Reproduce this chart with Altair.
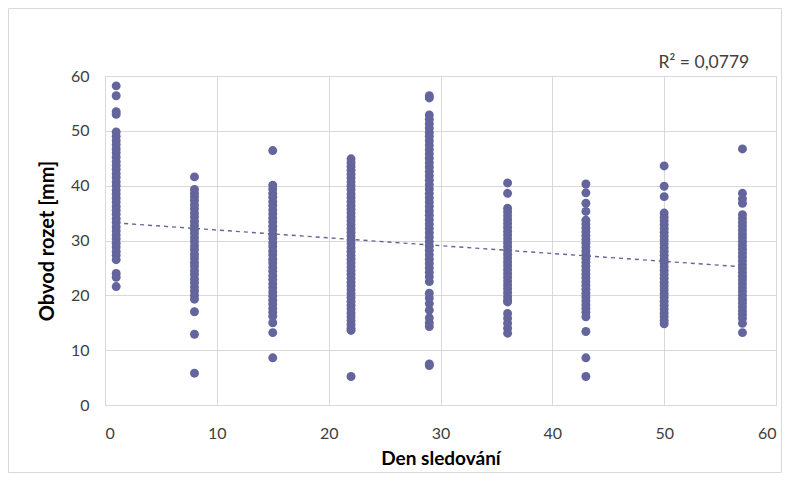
import altair as alt
import pandas as pd

# ---- data ----
days = [1, 8, 15, 22, 29, 36, 43, 50, 57]

obvod_d1 = [58.2, 56.4, 53.5, 53.0, 49.8, 49.0, 48.2, 47.5, 46.7, 46.0, 45.2, 44.4, 43.7,
            43.0, 42.2, 41.5, 40.7, 40.0, 39.2, 38.5, 37.7, 37.0, 36.2, 35.5, 34.8, 34.0,
            33.3, 32.5, 31.8, 31.0, 30.3, 29.5, 28.8, 28.0, 27.3, 26.5, 24.0, 23.3, 21.6]
obvod_d8 = [41.6, 39.3, 38.6, 38.0, 37.3, 36.5, 35.8, 35.0, 34.3, 33.5, 32.8, 32.0, 31.3,
            30.5, 29.8, 29.0, 28.3, 27.5, 26.8, 26.0, 25.3, 24.5, 23.8, 23.0, 22.3, 21.5,
            20.8, 20.0, 19.3, 17.0, 12.9, 5.8]
obvod_d15 = [46.4, 40.1, 39.4, 38.6, 37.9, 37.1, 36.4, 35.6, 34.9, 34.1, 33.4, 32.6, 31.9,
             31.1, 30.4, 29.6, 28.9, 28.1, 27.4, 26.6, 25.9, 25.1, 24.4, 23.6, 22.9, 22.1,
             21.4, 20.6, 19.9, 19.1, 18.4, 17.6, 16.9, 16.2, 15.0, 13.2, 8.6]
obvod_d22 = [44.9, 44.2, 43.5, 42.8, 42.1, 41.4, 40.7, 40.0, 39.3, 38.5, 37.8, 37.1, 36.4,
             35.7, 35.0, 34.3, 33.6, 32.9, 32.2, 31.5, 30.8, 30.1, 29.4, 28.7, 28.0, 27.3,
             26.6, 25.9, 25.2, 24.5, 23.8, 23.1, 22.4, 21.7, 21.0, 20.3, 19.6, 18.9, 18.2,
             17.5, 16.8, 16.1, 15.4, 14.7, 14.0, 13.6, 5.2]
obvod_d29 = [56.4, 56.0, 52.9, 52.1, 51.3, 50.5, 49.7, 49.0, 48.2, 47.4, 46.6, 45.8, 45.0,
             44.2, 43.4, 42.6, 41.8, 41.0, 40.2, 39.4, 38.6, 37.8, 37.0, 36.2, 35.4, 34.6,
             33.8, 33.0, 32.2, 31.4, 30.6, 29.8, 29.0, 28.2, 27.4, 26.6, 25.8, 25.0, 24.2,
             23.4, 22.5, 20.4, 19.5, 18.5, 17.3, 15.9, 15.0, 14.3, 7.5, 7.2]
obvod_d36 = [40.5, 38.6, 35.9, 35.2, 34.5, 33.8, 33.1, 32.4, 31.7, 31.0, 30.3, 29.6, 28.9,
             28.2, 27.5, 26.8, 26.1, 25.4, 24.7, 24.0, 23.3, 22.6, 21.9, 21.2, 20.5, 19.8,
             19.1, 18.8, 16.7, 15.8, 14.9, 14.0, 13.1]
obvod_d43 = [40.3, 38.7, 36.8, 35.3, 33.7, 33.0, 32.3, 31.6, 30.9, 30.2, 29.5, 28.8, 28.1,
             27.4, 26.7, 26.0, 25.3, 24.6, 23.9, 23.2, 22.5, 21.8, 21.1, 20.4, 19.7, 19.0,
             18.3, 17.6, 16.9, 16.1, 13.4, 8.6, 5.2]
obvod_d50 = [43.6, 39.9, 38.0, 35.0, 34.3, 33.6, 32.9, 32.2, 31.5, 30.8, 30.1, 29.4, 28.7,
             28.0, 27.3, 26.6, 25.9, 25.2, 24.5, 23.8, 23.1, 22.4, 21.7, 21.0, 20.3, 19.6,
             18.9, 18.2, 17.5, 16.8, 16.1, 15.4, 14.8]
obvod_d57 = [46.7, 38.6, 37.6, 36.8, 34.7, 34.0, 33.3, 32.6, 31.9, 31.2, 30.5, 29.8, 29.1,
             28.4, 27.7, 27.0, 26.3, 25.6, 24.9, 24.2, 23.5, 22.8, 22.1, 21.4, 20.7, 20.0,
             19.3, 18.6, 17.9, 17.2, 16.5, 15.8, 14.9, 13.2]

columns = [obvod_d1, obvod_d8, obvod_d15, obvod_d22, obvod_d29,
           obvod_d36, obvod_d43, obvod_d50, obvod_d57]

trend_x = [1, 57]
trend_y = [33.2, 25.2]

r2_text = ["R² = 0,0779"]
r2_x = [49.5]
r2_y = [62.4]

axis_ticks = [0, 10, 20, 30, 40, 50, 60]

# ---- tables ----
rows = []
for d, vals in zip(days, columns):
    for v in vals:
        rows.append({"den": d, "obvod": v})
points = pd.DataFrame(rows)
trend = pd.DataFrame({"den": trend_x, "obvod": trend_y})
label = pd.DataFrame({"den": r2_x, "obvod": r2_y, "t": r2_text})

COL = "#64659C"
GRID = "#D9D9D9"
FONT = "Lato"

xs = alt.Scale(domain=[0, 60], nice=False)
ys = alt.Scale(domain=[0, 60], nice=False)

x_axis = alt.Axis(values=axis_ticks, title="Den sledování", grid=True, gridColor=GRID,
                  domainColor=GRID, ticks=False, labelPadding=20, titlePadding=8,
                  labelFont=FONT, labelFontSize=16, labelColor="#404040",
                  titleFont=FONT, titleFontSize=19, titleFontWeight="bold", titleColor="#000000")
y_axis = alt.Axis(values=axis_ticks, title="Obvod rozet [mm]", grid=True, gridColor=GRID,
                  domainColor=GRID, ticks=False, labelPadding=16, titlePadding=13,
                  labelFont=FONT, labelFontSize=16, labelColor="#404040",
                  titleFont=FONT, titleFontSize=20, titleFontWeight="bold", titleColor="#000000")

scatter = alt.Chart(points).mark_circle(size=80, opacity=1, color=COL).encode(
    x=alt.X("den:Q", scale=xs, axis=x_axis),
    y=alt.Y("obvod:Q", scale=ys, axis=y_axis),
)

line = alt.Chart(trend).mark_line(color=COL, strokeWidth=1.4, strokeDash=[4, 4]).encode(
    x=alt.X("den:Q", scale=xs),
    y=alt.Y("obvod:Q", scale=ys),
)

text = alt.Chart(label).mark_text(align="left", baseline="middle", font=FONT, fontSize=17.5,
                                  color="#404040").encode(
    x=alt.X("den:Q", scale=xs),
    y=alt.Y("obvod:Q", scale=ys),
    text="t:N",
)

border = alt.Chart(pd.DataFrame({"k": [0]})).mark_rect(
    fill=None, stroke=GRID, strokeWidth=1
).encode(
    x=alt.value(-96.5), x2=alt.value(676.5), y=alt.value(-67.5), y2=alt.value(396.5)
)

chart = alt.layer(border, scatter, line, text).properties(
    width=671, height=329,
    autosize=alt.AutoSizeParams(type="none"),
    padding={"left": 97, "top": 68, "right": 6, "bottom": 68},
).configure_view(stroke=None)

chart.save("out.html", embed_options={"renderer": "svg", "actions": False})
